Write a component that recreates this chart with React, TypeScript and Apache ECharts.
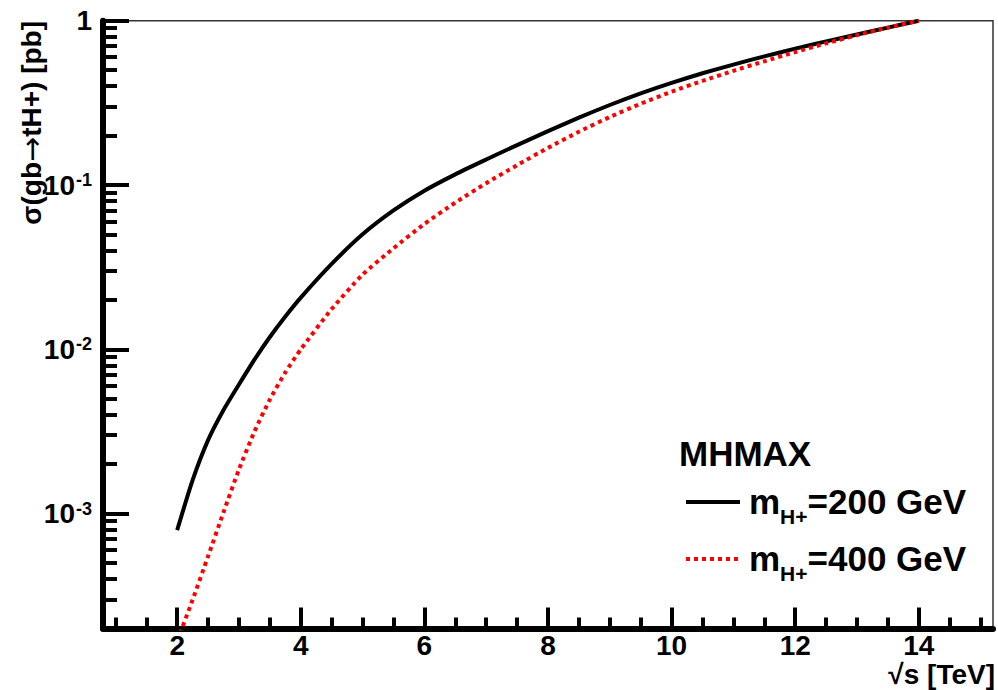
import React, { useEffect, useRef } from 'react';
import * as echarts from 'echarts';

// sqrt(s) in TeV
const energies = [2, 2.25, 2.5, 2.75, 3, 3.25, 3.5, 3.75, 4, 4.5, 5, 5.5, 6, 6.5, 7, 7.5, 8, 8.5, 9, 9.5, 10, 10.5, 11, 11.5, 12, 12.5, 13, 13.5, 14];
// sigma(gb -> tH+) in pb, mH+ = 200 GeV
const xsec200 = [7.94e-4, 1.6e-3, 2.8e-3, 4.27e-3, 6.11e-3, 8.65e-3, 0.01189, 0.01585, 0.02065, 0.0331, 0.0501, 0.07, 0.0923, 0.1161, 0.1429, 0.175, 0.2128, 0.257, 0.3069, 0.3614, 0.4188, 0.4786, 0.5408, 0.6067, 0.6761, 0.7482, 0.8241, 0.9078, 1.0];
// sigma(gb -> tH+) in pb, mH+ = 400 GeV
const xsec400 = [1.68e-4, 2.99e-4, 5.5e-4, 1.02e-3, 1.86e-3, 3.16e-3, 4.95e-3, 7.24e-3, 0.01, 0.01758, 0.02851, 0.04121, 0.05794, 0.07816, 0.1026, 0.1321, 0.1683, 0.2109, 0.2594, 0.3126, 0.3698, 0.4305, 0.4955, 0.5662, 0.6442, 0.7278, 0.8166, 0.9078, 1.0];

const seriesNames = ['mH+=200 GeV', 'mH+=400 GeV'];
const legendHeader = 'MHMAX';
const xTitle = '\u221As [TeV]';

const xRange = [0.8, 15.2];
const yRange = [2e-4, 1];
const xMajorTicks = [2, 4, 6, 8, 10, 12, 14];
const xMinorTicks = [1, 1.5, 2.5, 3, 3.5, 4.5, 5, 5.5, 6.5, 7, 7.5, 8.5, 9, 9.5, 10.5, 11, 11.5, 12.5, 13, 13.5, 14.5, 15];
const yMajorExponents = [-3, -2, -1, 0];
const yMinorDecades = [-4, -3, -2, -1];
const yMinorMultipliers = [2, 3, 4, 5, 6, 7, 8, 9];

const FONT = '"Liberation Sans", Arial, Helvetica, sans-serif';

export default function App() {
  const ref = useRef<HTMLDivElement>(null);

  useEffect(() => {
    if (!ref.current) return;
    const chart = echarts.init(ref.current, null, { renderer: 'svg' });

    const yMin = Math.log10(yRange[0]);
    const yMax = Math.log10(yRange[1]);
    const yMinor: number[] = [];
    yMinorDecades.forEach((d) => {
      yMinorMultipliers.forEach((k) => {
        const v = d + Math.log10(k);
        if (v > yMin + 1e-6 && v < yMax - 1e-6) yMinor.push(v);
      });
    });

    const toLog = (arr: number[]) => energies.map((e, i) => [e, Math.log10(arr[i])]);

    const option: any = {
      animation: false,
      backgroundColor: '#ffffff',
      grid: {
        left: 103,
        right: 5,
        top: 20.7,
        bottom: 61.5,
        show: true,
        borderColor: '#333333',
        borderWidth: 1.5,
        backgroundColor: 'transparent',
      },
      xAxis: [
        {
          type: 'value',
          min: xRange[0],
          max: xRange[1],
          position: 'bottom',
          axisLine: { show: true, onZero: false, lineStyle: { color: '#000', width: 6 } },
          axisTick: { show: true, inside: true, length: 21, customValues: xMajorTicks, lineStyle: { color: '#000', width: 4 } },
          axisLabel: {
            show: true,
            customValues: xMajorTicks,
            margin: 6,
            color: '#000',
            fontFamily: FONT,
            fontWeight: 'bold',
            fontSize: 28,
            lineHeight: 22,
          },
          splitLine: { show: false },
        },
        {
          type: 'value',
          min: xRange[0],
          max: xRange[1],
          position: 'bottom',
          axisLine: { show: false, onZero: false },
          axisTick: { show: true, inside: true, length: 11, customValues: xMinorTicks, lineStyle: { color: '#000', width: 4 } },
          axisLabel: { show: false },
          splitLine: { show: false },
        },
      ],
      yAxis: [
        {
          type: 'value',
          min: yMin,
          max: yMax,
          position: 'left',
          axisLine: { show: true, onZero: false, lineStyle: { color: '#000', width: 6 } },
          axisTick: { show: true, inside: true, length: 26, customValues: yMajorExponents, lineStyle: { color: '#000', width: 4 } },
          axisLabel: {
            show: true,
            customValues: yMajorExponents,
            margin: 11,
            formatter: (v: number) => (Math.abs(v) < 1e-9 ? '{b|1}' : `{b|10}{s|${Math.round(v)}}`),
            rich: {
              b: { fontFamily: FONT, fontWeight: 'bold', fontSize: 28, color: '#000', verticalAlign: 'bottom', lineHeight: 28 },
              s: { fontFamily: FONT, fontWeight: 'bold', fontSize: 18, color: '#000', verticalAlign: 'top', lineHeight: 18, padding: [0, 0, 12, 1] },
            },
          },
          splitLine: { show: false },
        },
        {
          type: 'value',
          min: yMin,
          max: yMax,
          position: 'left',
          axisLine: { show: false, onZero: false },
          axisTick: { show: true, inside: true, length: 14, customValues: yMinor, lineStyle: { color: '#000', width: 4 } },
          axisLabel: { show: false },
          splitLine: { show: false },
        },
      ],
      legend: {
        data: seriesNames,
        orient: 'vertical',
        left: 679,
        top: 479,
        itemWidth: 54,
        itemHeight: 14,
        itemGap: 14,
        selectedMode: false,
        itemStyle: { opacity: 0 },
        lineStyle: { width: 4 },
        formatter: (name: string) => {
          const rest = name.replace('mH+', '');
          return `{m|m}{sub|H+}{m2|${rest}}`;
        },
        textStyle: {
          color: '#000',
          rich: {
            m: { fontFamily: FONT, fontWeight: 'bold', fontSize: 35, color: '#000', padding: [0, 0, 0, 4], lineHeight: 36, verticalAlign: 'top' },
            sub: { fontFamily: FONT, fontWeight: 'bold', fontSize: 21, color: '#000', lineHeight: 21, padding: [22, 0, 0, 0], verticalAlign: 'top' },
            m2: { fontFamily: FONT, fontWeight: 'bold', fontSize: 35, color: '#000', lineHeight: 36, verticalAlign: 'top' },
          },
        },
      },
      graphic: [
        {
          type: 'text',
          x: 31,
          y: 21,
          rotation: Math.PI / 2,
          style: {
            text: '{a|\u03C3(gb}{r|\u2192}{a|tH+) [pb]}',
            align: 'right',
            verticalAlign: 'middle',
            rich: {
              a: { fontFamily: FONT, fontWeight: 'bold', fontSize: 28, fill: '#000' },
              r: { fontFamily: '"DejaVu Sans"', fontWeight: 'normal', fontSize: 30, fill: '#000' },
            },
          },
        },
        {
          type: 'text',
          x: 995,
          y: 674,
          style: { text: xTitle, font: `bold 28px ${FONT}`, fill: '#000', align: 'right', verticalAlign: 'middle', lineHeight: 24 },
        },
        {
          type: 'text',
          x: 679,
          y: 453,
          style: { text: legendHeader, font: `bold 35px ${FONT}`, fill: '#000', align: 'left', verticalAlign: 'middle' },
        },
      ],
      series: [
        {
          type: 'line',
          name: seriesNames[0],
          xAxisIndex: 0,
          yAxisIndex: 0,
          data: toLog(xsec200),
          symbol: 'none',
          showSymbol: false,
          smooth: 0.2,
          clip: true,
          lineStyle: { color: '#000000', width: 4 },
          itemStyle: { color: '#000000' },
          z: 3,
        },
        {
          type: 'line',
          name: seriesNames[1],
          xAxisIndex: 0,
          yAxisIndex: 0,
          data: toLog(xsec400),
          symbol: 'none',
          showSymbol: false,
          smooth: 0.2,
          clip: true,
          lineStyle: { color: '#ff0000', width: 4, type: [4, 4] },
          itemStyle: { color: '#ff0000' },
          z: 4,
        },
      ],
    };

    chart.setOption(option);
    return () => {
      chart.dispose();
    };
  }, []);

  return <div ref={ref} style={{ width: 998, height: 690, position: 'absolute', left: 0, top: 0 }} />;
}
